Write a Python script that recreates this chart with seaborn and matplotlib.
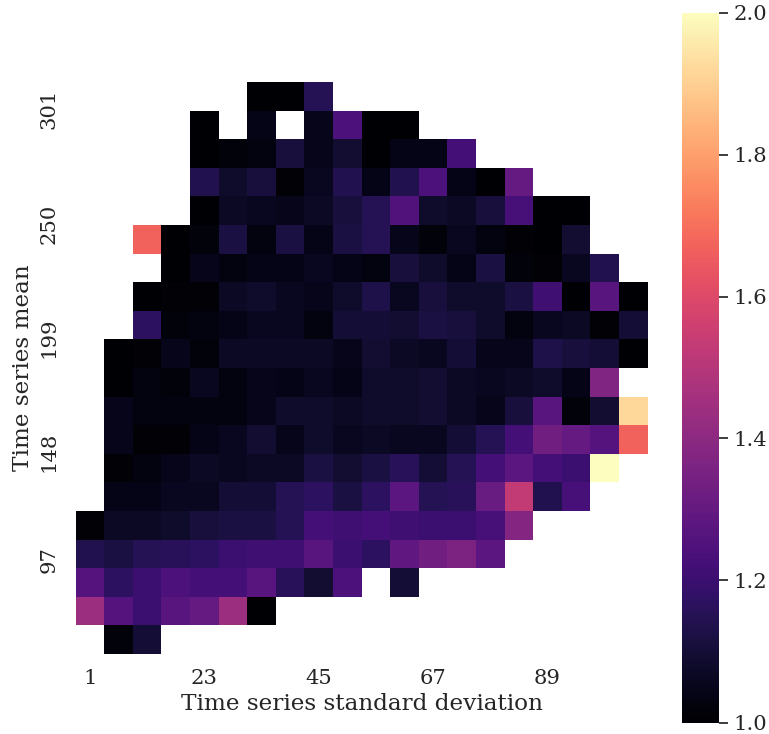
import numpy as np
import pandas as pd
import matplotlib
matplotlib.use("Agg")
import matplotlib.pyplot as plt
import seaborn as sns

n = np.nan
row_00 = [n,n,n,n,n,n,1.0,1.0,1.15,n,n,n,n,n,n,n,n,n,n,n]
row_01 = [n,n,n,n,1.0,n,1.04,n,1.05,1.24,1.0,1.0,n,n,n,n,n,n,n,n]
row_02 = [n,n,n,n,1.0,1.02,1.03,1.11,1.05,1.09,1.0,1.04,1.04,1.22,n,n,n,n,n,n]
row_03 = [n,n,n,n,1.14,1.08,1.11,1.01,1.06,1.14,1.04,1.14,1.24,1.04,1.0,1.30,n,n,n,n]
row_04 = [n,n,n,n,1.0,1.07,1.06,1.05,1.07,1.11,1.15,1.25,1.08,1.07,1.11,1.23,1.0,1.0,n,n]
row_05 = [n,n,1.67,1.0,1.02,1.12,1.03,1.12,1.04,1.12,1.15,1.05,1.02,1.06,1.03,1.01,1.0,1.09,n,n]
row_06 = [n,n,n,1.0,1.05,1.03,1.04,1.04,1.06,1.04,1.03,1.11,1.08,1.04,1.12,1.02,1.01,1.06,1.14,n]
row_07 = [n,n,1.0,1.01,1.01,1.07,1.08,1.06,1.05,1.08,1.13,1.06,1.11,1.08,1.08,1.12,1.21,1.0,1.27,1.0]
row_08 = [n,n,1.17,1.02,1.03,1.04,1.06,1.06,1.03,1.10,1.10,1.09,1.12,1.11,1.08,1.03,1.06,1.07,1.01,1.10]
row_09 = [n,1.0,1.01,1.05,1.02,1.07,1.07,1.07,1.07,1.05,1.09,1.07,1.06,1.10,1.05,1.05,1.13,1.11,1.10,1.0]
row_10 = [n,1.0,1.03,1.02,1.06,1.03,1.05,1.04,1.06,1.04,1.08,1.08,1.09,1.07,1.06,1.07,1.08,1.04,1.37,n]
row_11 = [n,1.05,1.03,1.03,1.03,1.03,1.05,1.08,1.08,1.07,1.08,1.08,1.09,1.07,1.05,1.11,1.27,1.02,1.09,1.92]
row_12 = [n,1.05,1.01,1.01,1.04,1.06,1.09,1.05,1.08,1.06,1.07,1.06,1.06,1.10,1.15,1.22,1.33,1.30,1.26,1.67]
row_13 = [n,1.01,1.03,1.05,1.07,1.06,1.07,1.07,1.12,1.09,1.12,1.16,1.10,1.15,1.22,1.28,1.22,1.20,2.0,n]
row_14 = [n,1.04,1.04,1.06,1.06,1.10,1.10,1.15,1.17,1.12,1.17,1.28,1.15,1.16,1.31,1.53,1.14,1.23,n,n]
row_15 = [1.01,1.07,1.07,1.08,1.11,1.12,1.12,1.15,1.22,1.21,1.22,1.21,1.20,1.20,1.23,1.38,n,n,n,n]
row_16 = [1.14,1.12,1.15,1.16,1.17,1.20,1.21,1.21,1.27,1.20,1.17,1.29,1.33,1.36,1.28,n,n,n,n,n]
row_17 = [1.26,1.17,1.20,1.24,1.22,1.22,1.27,1.16,1.09,1.24,n,1.10,n,n,n,n,n,n,n,n]
row_18 = [1.44,1.26,1.20,1.27,1.30,1.44,1.0,n,n,n,n,n,n,n,n,n,n,n,n,n]
row_19 = [n,1.02,1.10,n,n,n,n,n,n,n,n,n,n,n,n,n,n,n,n,n]
rows = [row_00,row_01,row_02,row_03,row_04,row_05,row_06,row_07,row_08,row_09,
        row_10,row_11,row_12,row_13,row_14,row_15,row_16,row_17,row_18,row_19]

x_tick_labels = ["1","23","45","67","89"]
x_tick_cols = [0,4,8,12,16]
y_tick_labels = ["301","250","199","148","97"]
y_tick_rows = [0,4,8,12,16]

sns.set_theme(style="white", font="DejaVu Serif", rc={"text.color":"#262626","axes.labelcolor":"#262626",
              "xtick.color":"#262626","ytick.color":"#262626"})
W, H = 769, 734
fig = plt.figure(figsize=(W/100, H/100), dpi=100)
ax = fig.add_axes([75/W, 1-654/H, 573/W, 572/H])
cax = fig.add_axes([682/W, 1-722.5/H, 37/W, 710/H])

sns.heatmap(pd.DataFrame(rows), cmap="magma", vmin=1.0, vmax=2.0, square=True, ax=ax, cbar_ax=cax)
ax.set_xticks(np.array(x_tick_cols)+0.5, x_tick_labels, rotation=0, fontsize=15.2)
ax.set_yticks(np.array(y_tick_rows)+0.24, y_tick_labels, rotation=90, fontsize=15.2, va="top")
ax.tick_params(axis="x", length=0, pad=10.5)
ax.tick_params(axis="y", length=0, pad=12)
ax.set_xlabel("Time series standard deviation", fontsize=16.7, labelpad=4)
ax.set_ylabel("Time series mean", fontsize=16.7, labelpad=4)
cax.tick_params(labelsize=15.2, length=6.5, width=1.25, pad=4, right=True)
cb = ax.collections[0].colorbar
cb.outline.set_visible(False)
fig.savefig("out.png", dpi=100)
